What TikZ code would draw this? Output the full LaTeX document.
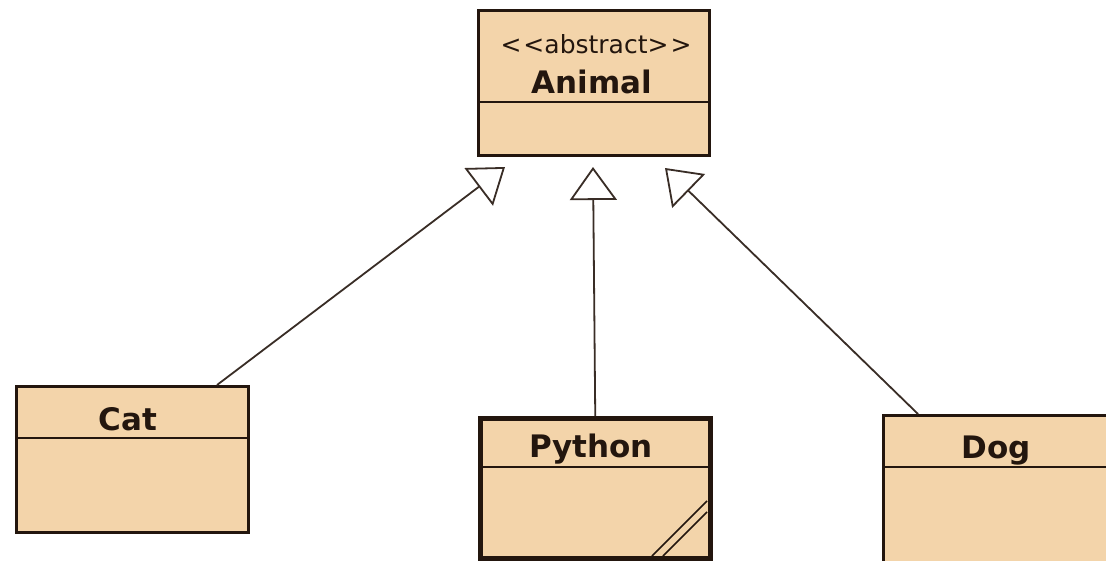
\documentclass[tikz,border=0pt]{standalone}
\usepackage{fontspec}
\setmainfont{DejaVu Sans}
\usetikzlibrary{arrows.meta}
\definecolor{classfill}{RGB}{243,212,170}
\definecolor{ink}{RGB}{35,22,14}
\begin{document}
\begin{tikzpicture}[x=1pt,y=-1pt,
  classbox/.style={draw=ink, fill=classfill, line width=2.6pt, inner sep=0pt, anchor=north west},
  namelabel/.style={text=ink, font=\fontsize{31}{36}\selectfont\bfseries, inner sep=0pt, anchor=base},
  stereolabel/.style={text=ink, font=\fontsize{25}{30}\selectfont, inner sep=0pt, anchor=base},
  divider/.style={draw=ink, line width=2.3pt},
  inherit/.style={draw=ink!90, line width=1.8pt, -{Triangle[open, length=33pt, width=47pt]}}]
\useasboundingbox (0,0) rectangle (1106,560);
\fill[white] (0,0) rectangle (1106,560);
\begin{scope}
\clip (0,0) rectangle (1106,560);
% Animal
\node[classbox, minimum width=231pt, minimum height=145pt] (animal) at (477,9) {};
\draw[divider] (animal.west |- 0,102) -- (animal.east |- 0,102);
\node[stereolabel] (animalst) at (596,53) {<{}\kern2pt<{}abstract{}>{}\kern2pt>};
\node[namelabel] (animalname) at (592,93) {Animal};
% Cat
\node[classbox, minimum width=232pt, minimum height=146pt] (cat) at (15,385) {};
\draw[divider] (cat.west |- 0,438) -- (cat.east |- 0,438);
\node[namelabel] (catname) at (128,430) {Cat};
% Python
\node[classbox, line width=4.5pt, minimum width=230pt, minimum height=140pt] (python) at (478,416) {};
\draw[divider] (python.west |- 0,467) -- (python.east |- 0,467);
\node[namelabel] (pythonname) at (591,457) {Python};
\draw[ink, line width=1.5pt] (652,556) -- (707,501) (663,556) -- (707,512);
% Dog
\node[classbox, minimum width=240pt, minimum height=160pt] (dog) at (882,414) {};
\draw[divider] (dog.west |- 0,467) -- (1106,467);
\node[namelabel] (dogname) at (996,458) {Dog};
% connectors
\coordinate (catTip) at (505,167);
\coordinate (pyTip) at (593,167);
\coordinate (dogTip) at (665,168);
\draw[inherit] (217,0 |- cat.north) -- (catTip);
\draw[inherit] (python.north) -- (pyTip);
\draw[inherit] (918,0 |- dog.north) -- (dogTip);
\end{scope}
\end{tikzpicture}
\end{document}
